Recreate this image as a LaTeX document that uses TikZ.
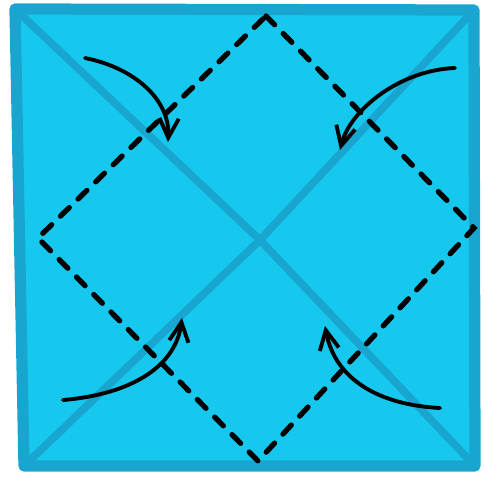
\documentclass[tikz,border=0pt]{standalone}
\usepackage{tikz}
\usetikzlibrary{arrows.meta}

\definecolor{paperfill}{RGB}{22,200,238}
\definecolor{paperedge}{RGB}{24,166,208}

\begin{document}
\begin{tikzpicture}[
  x=0.02cm,y=-0.02cm,
  edge/.style={draw=paperedge,line width=6.4pt,line join=round},
  crease/.style={draw=paperedge,line width=4.4pt},
  fold/.style={draw=black,line width=3pt,line cap=round,dash pattern=on 7pt off 7pt},
  turn/.style={draw=black,line width=2.2pt,line cap=round,-{Straight Barb[length=11pt,width=11pt,line width=2.2pt]}}
]
\useasboundingbox (0,0) rectangle (484,480);
% corners of the sheet
\coordinate (TL) at (15,9);
\coordinate (TR) at (474,10);
\coordinate (BR) at (475,466);
\coordinate (BL) at (24,466);
\coordinate (O) at (260,240);
% fold line corners
\coordinate (T) at (266,16);
\coordinate (R) at (474,228);
\coordinate (B) at (258,461);
\coordinate (L) at (38,238);

\fill[paperfill] (TL) -- (TR) -- (BR) -- (BL) -- cycle;
\draw[crease] (TL) -- (O) -- (BR);
\draw[crease] (TR) -- (O) -- (BL);
\draw[edge] (TL) -- (TR) -- (BR) -- (BL) -- cycle;
\draw[fold] (T) -- (R) -- (B) -- (L) -- cycle;

% arrows
\coordinate (a1) at (85,58);   \coordinate (h1) at (168,142);
\coordinate (a2) at (455,68);  \coordinate (h2) at (340,150);
\coordinate (a3) at (63,400);  \coordinate (h3) at (182,318);
\coordinate (a4) at (440,408); \coordinate (h4) at (325,326);
\draw[turn] (a1) .. controls (135,68) and (170,100) .. (h1);
\draw[turn] (a2) .. controls (400,70) and (350,110) .. (h2);
\draw[turn] (a3) .. controls (125,395) and (175,370) .. (h3);
\draw[turn] (a4) .. controls (380,405) and (335,380) .. (h4);
\end{tikzpicture}
\end{document}
